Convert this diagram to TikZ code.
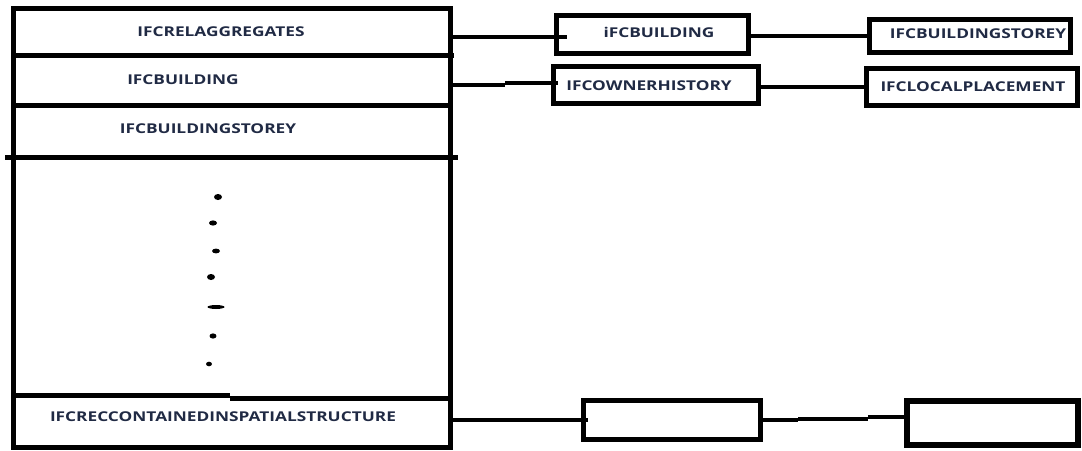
\documentclass[tikz,border=0pt]{standalone}
\usepackage{fontspec}
\newfontfamily\ifcfont[FakeStretch=1.28]{Open Sans}
\definecolor{ifcink}{RGB}{32,42,68}
\begin{document}
\begin{tikzpicture}[x=1pt, y=-1pt, font=\ifcfont\bfseries\fontsize{13.5}{15}\selectfont,
  box/.style={draw, line width=5pt, inner sep=0pt, outer sep=0pt, minimum width=#1},
  lbl/.style={text=ifcink, inner sep=0pt},
  wire/.style={line width=4pt}]
\useasboundingbox (0,0) rectangle (1082,450);
% left stack of entities
\node[box=437pt, minimum height=439pt] (stack) at (231.5,227.5) {};
\draw[line width=5pt] (stack.west |- 0,55) -- ([xshift=4pt]stack.east |- 0,55)
  (stack.west |- 0,105) -- (stack.east |- 0,105)
  ([xshift=-8pt]stack.west |- 0,157) -- ([xshift=8pt]stack.east |- 0,157)
  (stack.west |- 0,395) -- (230,395) (230,398) -- (stack.east |- 0,398);
\node[lbl] (trel) at (221,32) {IFCRELAGGREGATES};
\node[lbl] (tbld) at (183,80) {IFCBUILDING};
\node[lbl] (tsto) at (208,129) {IFCBUILDINGSTOREY};
\node[lbl] (tcont) at (223,417) {IFCRECCONTAINEDINSPATIALSTRUCTURE};
\foreach \x/\y/\w/\h in {218/197/4/3, 213/223/4/2.6, 216/251/4/2.4, 211/277/4/3, 216/307/8.5/2, 213/336/3.5/2.6, 209/364/3/2.3}{
  \fill (\x,\y) ellipse (\w pt and \h pt);
}
% related entities
\node[box=192pt, minimum height=38pt] (ibld) at (652,34) {};
\node[lbl] (tibld) at (659,32) {iFCBUILDING};
\node[box=201pt, minimum height=33pt] (isto) at (969.5,35.5) {};
\node[lbl] (tisto) at (978,34) {IFCBUILDINGSTOREY};
\node[box=205pt, minimum height=37pt] (own) at (655.5,84.5) {};
\node[lbl] (town) at (649,86) {IFCOWNERHISTORY};
\node[box=211pt, minimum height=37pt] (loc) at (971.5,86.5) {};
\node[lbl] (tloc) at (973,87) {IFCLOCALPLACEMENT};
\node[box=177pt, minimum height=39pt] (ea) at (671.5,419.5) {};
\node[box=171pt, minimum height=44pt, line width=6pt] (eb) at (992.5,422.5) {};
% connectors
\draw[wire] (stack.east |- 0,37) -- ([xshift=11pt,yshift=-3pt]ibld.west);
\draw[wire] (stack.east |- 0,85) -- ++(55,0) ++(0,-2) -- ([xshift=5pt]own.west |- 0,83);
\draw[wire] (ibld.east |- 0,36) -- (isto.west |- 0,36);
\draw[wire] (own.east |- 0,87) -- (loc.west |- 0,87);
\draw[wire] (stack.east |- 0,420) -- ([xshift=5pt]ea.west |- 0,420);
\draw[wire] (ea.east |- 0,420) -- ++(38,0) ++(0,-1) -- ++(70,0) ++(0,-2) -- (eb.west |- 0,417);
\end{tikzpicture}
\end{document}
